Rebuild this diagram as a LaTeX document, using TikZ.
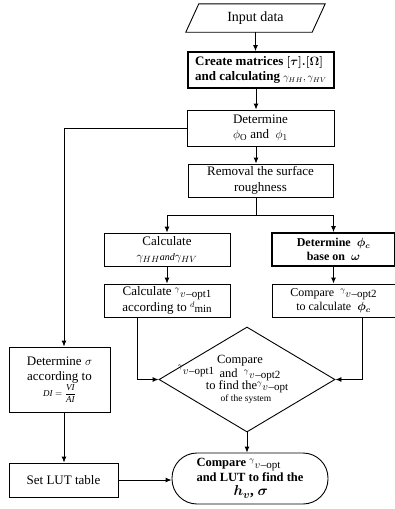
\documentclass[tikz,border=0pt]{standalone}
\usepackage{fontspec}
\usepackage{amsmath,amssymb,bm}
\setmainfont{Liberation Serif}
\usetikzlibrary{arrows.meta,calc,shapes.geometric}
\newcommand{\gvx}[1]{\raisebox{4pt}{\fontsize{8}{8}\selectfont$\gamma$}\kern0.3pt\raisebox{-1.5pt}{\fontsize{11}{11}\selectfont$v$\kern0.5pt--#1}}
\newcommand{\dmn}{\raisebox{4pt}{\fontsize{8}{8}\selectfont$d$}\raisebox{-1.5pt}{\fontsize{11}{11}\selectfont min}}
\tikzset{
  box/.style={draw, line width=0.9pt, align=center, inner sep=1pt, font=\fontsize{13}{15.5}\selectfont},
  bbox/.style={box, line width=1.8pt, font=\fontsize{13}{15.5}\selectfont\bfseries},
  plain/.style={inner sep=0pt, align=center},
  arr/.style={-{Latex[length=6pt,width=5pt]}, line width=0.9pt},
  ln/.style={line width=0.9pt}
}
\begin{document}
\begin{tikzpicture}[x=1pt,y=-1pt]
\useasboundingbox (0,0) rectangle (394,509);
% nodes
\node[plain, minimum width=126pt, minimum height=28pt, font=\fontsize{14}{16}\selectfont] (in) at (255.5,18) {Input data};
\draw[ln] ([xshift=-6.5]in.south west) -- ([xshift=6.5]in.north west) -- ([xshift=6.5]in.north east) -- ([xshift=-6.5]in.south east) -- cycle;
\node[bbox, minimum width=146pt, minimum height=36pt, align=left] (create) at (261,70)
  {Create matrices {\boldmath$[\tau].[\Omega]$}\\and calculating {\mdseries\fontsize{10}{12}\selectfont$\gamma_{HH},\gamma_{HV}$}};
\node[box, minimum width=147pt, minimum height=36pt] (det) at (260.5,128) {Determine\\$\phi_{\mathrm{O}}$ and\ \ $\phi_{1}$};
\node[box, minimum width=145pt, minimum height=33pt] (rem) at (260.5,180.5) {Removal the surface\\roughness};
\node[box, minimum width=126pt, minimum height=33pt] (calc) at (167,249.5) {Calculate\\$\gamma_{HH}${\fontsize{10}{12}\selectfont\itshape and}$\gamma_{HV}$};
\node[bbox, minimum width=123pt, minimum height=33pt, font=\fontsize{12}{14.5}\selectfont\bfseries] (detc) at (333.5,249.5) {Determine\ \ {\boldmath\large$\phi_c$}\\base on\ \ {\boldmath$\omega$}};
\node[box, minimum width=123pt, minimum height=33pt, font=\fontsize{12}{14.5}\selectfont] (cmp2) at (333.5,300.5) {Compare\ \ \gvx{opt2}\\to calculate\ \ {\boldmath$\phi_c$}};
\node[box, minimum width=126pt, minimum height=33pt] (calc1) at (167,300.5) {Calculate \gvx{opt1}\\according to \dmn};
\node[draw, ln, shape=diamond, minimum width=176pt, minimum height=105pt, inner sep=0pt, aspect=1.676] (dia) at (247,379.5) {};
\node[plain, font=\fontsize{12.5}{14}\selectfont] (d1) at (240,361) {Compare};
\node[plain, font=\fontsize{12.5}{14}\selectfont] (d2) at (196,371) {\gvx{opt1}};
\node[plain, font=\fontsize{12.5}{14}\selectfont] (d3) at (250,375) {and\ \ \gvx{opt2}};
\node[plain, font=\fontsize{12.5}{14}\selectfont] (d4) at (247,387) {to find the\gvx{opt}};
\node[plain, font=\fontsize{9.5}{11}\selectfont] (d5) at (246,399) {of the system};
\node[draw, ln, rounded corners=25pt, minimum width=156pt, minimum height=51pt, align=left, inner sep=0pt, font=\fontsize{12.5}{14.5}\selectfont\bfseries] (term) at (250,478.5)
  {Compare {\mdseries\gvx{opt}}\\and LUT to find the\\\hspace*{37pt}{\fontsize{15}{15}\selectfont\boldmath$h_v$, $\sigma$}};
\node[box, minimum width=101pt, minimum height=65pt] (sig) at (59.5,379.5) {Determine {\large$\sigma$}\\according to\\{\fontsize{9}{11}\selectfont$\mathit{DI}=\dfrac{\mathit{VI}}{\mathit{AI}}$}};
\node[box, minimum width=109pt, minimum height=34pt] (lut) at (63.5,480) {Set LUT table};
% helper coordinates
\coordinate (cx) at (256,0);
\coordinate (j) at (256,215);
\coordinate (lx) at (64,0);
% connectors
\draw[arr] (in.south) -- (in.south |- create.north);
\draw[arr] (create.south -| cx) -- (det.north -| cx);
\draw[arr] (det.south -| cx) -- (rem.north -| cx);
\draw[ln] (rem.south -| cx) -- (j);
\draw[ln] (calc.north |- j) -- (detc.north |- j);
\draw[arr] (calc.north |- j) -- (calc.north);
\draw[arr] (detc.north |- j) -- (detc.north);
\draw[arr] (calc.south) -- (calc1.north);
\draw[arr] (detc.south) -- (cmp2.north);
\draw[arr] ([xshift=-30]calc1.south) |- (dia.west);
\draw[arr] ([xshift=28.5]cmp2.south) |- (dia.east);
\draw[arr] (dia.south) -- (dia.south |- term.north);
\draw[arr] (det.west) -| (lx |- sig.north);
\draw[arr] (sig.south -| lx) -- (lut.north -| lx);
\draw[arr] (lut.east) -- (lut.east -| term.west);
\end{tikzpicture}
\end{document}
